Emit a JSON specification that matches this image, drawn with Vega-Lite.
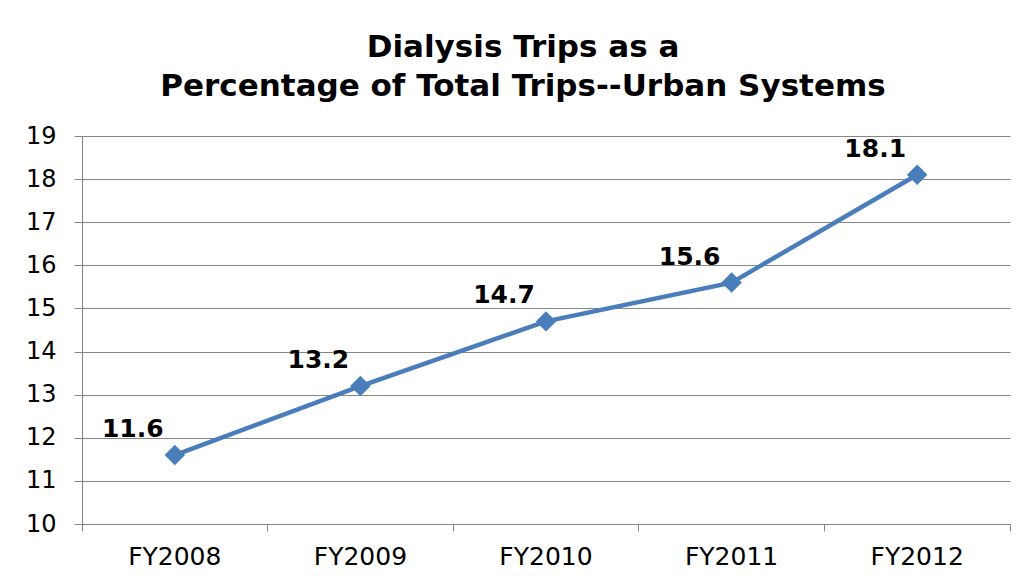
{
  "$schema": "https://vega.github.io/schema/vega-lite/v6.json",
  "width": 928,
  "height": 388,
  "autosize": {"type": "none"},
  "padding": {"left": 82, "top": 136, "right": 22, "bottom": 64},
  "background": "white",
  "config": {"view": {"stroke": null}, "font": "DejaVu Sans"},
  "title": {
    "text": ["Dialysis Trips as a", "Percentage of Total Trips--Urban Systems"],
    "fontSize": 31,
    "fontWeight": "bold",
    "font": "DejaVu Sans",
    "color": "black",
    "lineHeight": 39,
    "offset": 21,
    "dx": -23,
    "anchor": "middle"
  },
  "data": {
    "values": [
      {"year": "FY2008", "pct": 11.6},
      {"year": "FY2009", "pct": 13.2},
      {"year": "FY2010", "pct": 14.7},
      {"year": "FY2011", "pct": 15.6},
      {"year": "FY2012", "pct": 18.1}
    ]
  },
  "encoding": {
    "x": {
      "field": "year",
      "type": "nominal",
      "bandPosition": 0.5,
      "scale": {"type": "band", "paddingInner": 0, "paddingOuter": 0},
      "axis": {
        "title": null,
        "bandPosition": 1,
        "tickExtra": true,
        "labelAngle": 0,
        "tickSize": 7,
        "tickColor": "#868686",
        "domainColor": "#868686",
        "labelFontSize": 25,
        "labelColor": "black",
        "labelPadding": 13,
        "grid": false
      }
    },
    "y": {
      "field": "pct",
      "type": "quantitative",
      "scale": {"domain": [10, 19], "nice": false, "zero": false},
      "axis": {
        "title": null,
        "values": [10, 11, 12, 13, 14, 15, 16, 17, 18, 19],
        "tickSize": 8,
        "tickColor": "#868686",
        "domainColor": "#868686",
        "gridColor": "#868686",
        "labelFontSize": 24,
        "labelColor": "black",
        "labelPadding": 18
      }
    }
  },
  "layer": [
    {"mark": {"type": "line", "color": "#4A7EBB", "strokeWidth": 4.5}},
    {"mark": {"type": "point", "shape": "diamond", "filled": true, "color": "#4A7EBB", "size": 420, "opacity": 1}},
    {
      "mark": {"type": "text", "fontSize": 25, "fontWeight": "bold", "dx": -42, "dy": -26, "color": "black"},
      "encoding": {"text": {"field": "pct", "type": "quantitative", "format": ".1f"}}
    }
  ]
}
